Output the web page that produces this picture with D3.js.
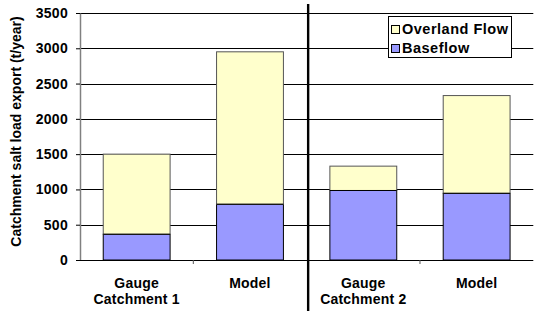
<!DOCTYPE html>
<html><head><meta charset="utf-8">
<script src="https://cdn.jsdelivr.net/npm/d3@7"></script>
<style>body{margin:0;background:#fff}svg{display:block;font-family:Arial,"Liberation Sans",sans-serif;font-weight:bold}</style>
</head><body><svg id="c" width="534" height="311"></svg>
<script>
const categories = [["Gauge","Catchment 1"],["Model"],["Gauge","Catchment 2"],["Model"]];
const baseflow = [365, 790, 985, 945];
const overland = [1135, 2160, 345, 1385];
const yTicks = [0,500,1000,1500,2000,2500,3000,3500];
const seriesNames = ["Overland Flow","Baseflow"];
const colors = {"Overland Flow":"#FFFFCC","Baseflow":"#9999FF"};

const svg = d3.select("#c");
const L=80, R=533.3, T=13, B=260;
const x = d3.scaleBand().domain(d3.range(categories.length)).range([L,R]).paddingInner(0.41).paddingOuter(0.205);
const y = d3.scaleLinear().domain([0,3500]).range([B,T]);

// gridlines
svg.append("g").selectAll("line").data(yTicks.filter(d=>d>0)).join("line")
  .attr("x1",L).attr("x2",R).attr("y1",d=>Math.round(y(d))+0.5).attr("y2",d=>Math.round(y(d))+0.5)
  .attr("stroke","#000").attr("stroke-width",1);

// y axis
const ya = svg.append("g").attr("transform",`translate(${L},0)`)
  .call(d3.axisLeft(y).tickValues(yTicks).tickSize(4).tickSizeOuter(0).tickPadding(8).tickFormat(d3.format("d")));
ya.select(".domain").attr("stroke","#808080").attr("stroke-width",1.5);
ya.selectAll(".tick line").attr("stroke","#000");
ya.selectAll("text").attr("font-size",14).attr("font-weight","bold").attr("fill","#000").attr("font-family","Arial, 'Liberation Sans', sans-serif").attr("letter-spacing",0.3);

// bars
const stackData = categories.map((c,i)=>({i, base:baseflow[i], over:overland[i]}));
const g = svg.append("g");
g.selectAll("rect.b").data(stackData).join("rect").attr("class","b")
  .attr("x",d=>x(d.i)).attr("width",x.bandwidth())
  .attr("y",d=>y(d.base)).attr("height",d=>y(0)-y(d.base))
  .attr("fill",colors["Baseflow"]).attr("stroke","#000").attr("stroke-width",1);
g.selectAll("rect.o").data(stackData).join("rect").attr("class","o")
  .attr("x",d=>x(d.i)).attr("width",x.bandwidth())
  .attr("y",d=>y(d.base+d.over)).attr("height",d=>y(d.base)-y(d.base+d.over))
  .attr("fill",colors["Overland Flow"]).attr("stroke","#555").attr("stroke-width",1);
g.selectAll("line.bt").data(stackData).join("line").attr("class","bt")
  .attr("x1",d=>x(d.i)).attr("x2",d=>x(d.i)+x.bandwidth())
  .attr("y1",d=>y(d.base)).attr("y2",d=>y(d.base)).attr("stroke","#000");

// baseline
svg.append("line").attr("x1",L-4).attr("x2",R).attr("y1",B+0.5).attr("y2",B+0.5).attr("stroke","#000");
// category ticks
const step = x.step();
svg.append("g").selectAll("line").data([1,3]).join("line")
  .attr("x1",d=>x(0)-x.paddingOuter()*step + d*step).attr("x2",d=>x(0)-x.paddingOuter()*step + d*step)
  .attr("y1",B).attr("y2",B+4).attr("stroke","#555");

// separator
const sx = x(0)-x.paddingOuter()*step + 2*step + 1.5;
svg.append("line").attr("x1",sx).attr("x2",sx).attr("y1",4).attr("y2",311).attr("stroke","#000").attr("stroke-width",2.4);

// category labels
categories.forEach((c,i)=>{
  const t = svg.append("text").attr("x",x(i)+x.bandwidth()/2).attr("y",288).attr("text-anchor","middle").attr("font-size",14).attr("letter-spacing",0.2);
  c.forEach((s,k)=>t.append("tspan").attr("x",x(i)+x.bandwidth()/2).attr("dy",k?15.5:0).text(s));
});

// y title
svg.append("text").attr("transform",`translate(21,${(T+B)/2-5}) rotate(-90)`).attr("text-anchor","middle")
  .attr("font-size",14).text("Catchment salt load export (t/year)");

// legend
const lg = svg.append("g");
lg.append("rect").attr("x",388.5).attr("y",16.5).attr("width",123).attr("height",41).attr("fill","#fff").attr("stroke","#000");
seriesNames.forEach((n,k)=>{
  lg.append("rect").attr("x",391.5).attr("y",25.5+k*19).attr("width",8).attr("height",8).attr("fill",colors[n]).attr("stroke","#000");
  lg.append("text").attr("x",402).attr("y",34+k*19).attr("font-size",14.5).attr("letter-spacing",0.5).text(n);
});
</script></body></html>
